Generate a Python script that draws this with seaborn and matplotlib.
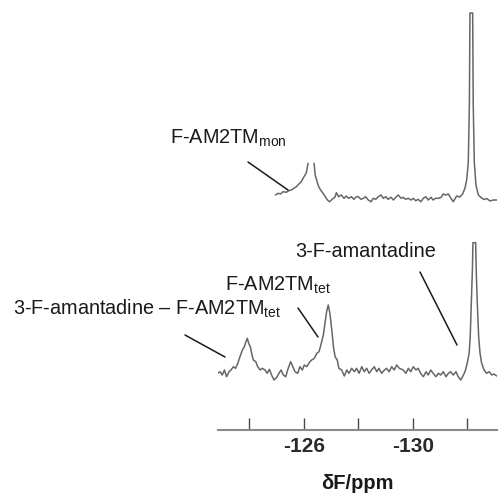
import numpy as np
import pandas as pd
import matplotlib
matplotlib.use('Agg')
import matplotlib.pyplot as plt
from matplotlib.lines import Line2D
import seaborn as sns

# ---------------- data ----------------
bottom_ppm = [-122.83, -122.92, -123.00, -123.08, -123.16, -123.25, -123.32, -123.41, -123.49, -123.57,
              -123.65, -123.74, -123.81, -123.87, -123.92, -123.97, -124.03, -124.08, -124.14, -124.23,
              -124.30, -124.39, -124.47, -124.57, -124.65, -124.73, -124.81, -124.90, -125.00, -125.08,
              -125.16, -125.24, -125.33, -125.42, -125.51, -125.59, -125.67, -125.77, -125.85, -125.94,
              -126.01, -126.10, -126.19, -126.28, -126.38, -126.47, -126.55, -126.62, -126.71, -126.77,
              -126.83, -126.89, -126.95, -127.02, -127.08, -127.14, -127.22, -127.28, -127.38, -127.48,
              -127.57, -127.65, -127.75, -127.85, -127.93, -128.02, -128.12, -128.21, -128.30, -128.39,
              -128.48, -128.58, -128.67, -128.75, -128.85, -128.95, -129.03, -129.12, -129.22, -129.31,
              -129.40, -129.50, -129.64, -129.74, -129.83, -129.92, -130.01, -130.11, -130.19, -130.28,
              -130.38, -130.48, -130.56, -130.65, -130.74, -130.84, -130.93, -131.02, -131.11, -131.21,
              -131.30, -131.38, -131.48, -131.58, -131.66, -131.75, -131.82, -131.91, -131.99, -132.06,
              -132.10, -132.14, -132.18, -132.20, -132.30, -132.32, -132.36, -132.41, -132.46, -132.52,
              -132.61, -132.70, -132.80, -132.89, -132.97, -133.07]
bottom_int = [-0.3, 1.3, -2, 3, -3.7, 1.3, 3, 6.3, 4.7, 9.7,
              16.3, 23, 26.3, 31.3, 34.7, 29.7, 26.3, 19.7, 13, 11.3,
              6.3, 3, 4.7, 3, -0.3, 3.7, -2, -7, -4.3, -0.3,
              3, -2, -3.7, 4.7, 11.3, 6.3, 1.3, -0.3, 6.3, 3,
              8, 6.3, 10.3, 13, 14.7, 19.7, 21.3, 28, 38, 49.7,
              61.3, 68, 59.7, 43, 26.3, 16.3, 13, 4.7, 3, -3,
              3, -0.3, 4.7, 1.3, 4.7, -0.3, 6.3, 1.3, 4.7, -0.3,
              3, 6.3, 1.3, 4.7, -0.3, 3, 4.7, 1.3, 6.3, 3,
              8, 4.7, 3, -0.3, 4.7, 1.3, 6.3, 3, 4.7, -0.3,
              -3.7, 1.3, -2, 3, -0.3, -3.7, -0.3, -2, 1.3, -3.7,
              -0.3, 1.3, -2, 1.3, -3.7, -7, -3.7, 1.3, 9.7, 19.7,
              36.3, 69.7, 103, 130.3, 130.3, 103, 69.7, 36.3, 19.7, 9.7,
              3, -0.3, 1.3, -2, -1, -3]

# upper spectrum (F-AM2TM monomer), drawn in two pieces around the clipped peak
top_ppm_a = [-124.95, -125.05, -125.14, -125.23, -125.35, -125.44, -125.53, -125.63, -125.72, -125.81,
             -125.90, -126.00, -126.08, -126.15]
top_int_a = [5, 6.7, 6, 8.3, 7.7, 9.3, 10, 11.7, 13.3, 16, 18.3, 23.3, 26.7, 36.7]
top_ppm_b = [-126.37, -126.41, -126.48, -126.54, -126.61, -126.70, -126.78, -126.86, -126.94, -127.03,
             -127.13, -127.19, -127.27, -127.37, -127.47, -127.55, -127.64, -127.74, -127.83, -127.92,
             -127.99, -128.09, -128.18, -128.26, -128.36, -128.46, -128.54, -128.63, -128.73, -128.83,
             -128.91, -129.00, -129.09, -129.19, -129.28, -129.37, -129.46, -129.56, -129.64, -129.73,
             -129.83, -129.93, -130.01, -130.10, -130.19, -130.29, -130.38, -130.47, -130.56, -130.66,
             -130.74, -130.83, -130.93, -131.03, -131.11, -131.20, -131.30, -131.39, -131.48, -131.60,
             -131.72, -131.82, -131.91, -131.97, -132.03, -132.07, -132.09, -132.19, -132.21, -132.25,
             -132.31, -132.40, -132.52, -132.61, -132.70, -132.83, -132.95, -133.13]
top_int_b = [36.7, 25, 18.3, 13.3, 10, 6.7, 3.3, 0, -1.7, 0.7,
             2.7, 7.3, 3.3, 5, 1.7, 4, 1.7, 3.3, 0.7, 3.3,
             3.3, 0.7, 1.7, 3.3, 0, -1.7, 1.7, 0.7, 3.3, 5,
             1.7, 3.3, 0.7, 2.7, 0, 2.7, 5, 1.7, 2.7, 0.7,
             1.7, 0, 1.7, -0.7, 0.7, -1.7, 1.7, 3.3, 0, 2.7,
             0, 1.7, 1.7, 2.7, 6, 5, 6, 1.7, -1.7, 4,
             3, 6, 12, 20, 38, 97, 187, 187, 97, 38,
             15, 5, 2, 0.5, 1.5, -1, 0, 0]

tick_values = [-124, -126, -128, -130, -132]
tick_labels = ['', '-126', '', '-130', '']
x_label = 'δF/ppm'

# ---------------- style ----------------
sns.set_theme(style='white')
plt.rcParams['font.family'] = ['Liberation Sans', 'DejaVu Sans']
plt.rcParams['mathtext.fontset'] = 'custom'
plt.rcParams['mathtext.rm'] = 'Liberation Sans'
plt.rcParams['mathtext.it'] = 'Liberation Sans:italic'
plt.rcParams['mathtext.bf'] = 'Liberation Sans:bold'

W, H = 502, 493
fig = plt.figure(figsize=(W / 100, H / 100), dpi=100)
fig.patch.set_facecolor('white')
ax = fig.add_axes([218 / W, 63 / H, 279 / W, 430 / H])
ax.set_facecolor('white')

TOP_OFFSET = 173
df = pd.concat([
    pd.DataFrame({'ppm': bottom_ppm, 'y': bottom_int, 'seg': 'bottom'}),
    pd.DataFrame({'ppm': top_ppm_a, 'y': np.array(top_int_a) + TOP_OFFSET, 'seg': 'top_a'}),
    pd.DataFrame({'ppm': top_ppm_b, 'y': np.array(top_int_b) + TOP_OFFSET, 'seg': 'top_b'}),
], ignore_index=True)

sns.lineplot(data=df, x='ppm', y='y', units='seg', estimator=None, sort=False,
             color='#666666', lw=1.1, ax=ax, legend=False)

ax.set_xlim(-122.844, -133.083)
ax.set_ylim(-57, 373)
for s in ['left', 'top', 'right']:
    ax.spines[s].set_visible(False)
ax.spines['bottom'].set_color('#8a8a8a')
ax.spines['bottom'].set_linewidth(1.5)

ax.set_xticks(tick_values)
ax.set_xticklabels(tick_labels, fontsize=15, fontweight='bold', color='#2a2a2a')
ax.tick_params(axis='x', direction='in', length=8.5, width=1.0, color='#4a4a4a',
               pad=5, bottom=True)
ax.set_yticks([])
ax.set_ylabel('')
ax.set_xlabel(x_label, fontsize=14.5, fontweight='bold', color='#1a1a1a')
ax.xaxis.set_label_coords(0.5, -0.103)


def ptext(x, y, s, size=14.3):
    fig.text(x / W, 1 - y / H, s, ha='left', va='baseline', fontsize=size, color='#1a1a1a')


def pline(x1, y1, x2, y2):
    fig.add_artist(Line2D([x1 / W, x2 / W], [1 - y1 / H, 1 - y2 / H],
                          transform=fig.transFigure, color='#1a1a1a', lw=1.1))


ptext(170, 144, r'F-AM2TM$_{\mathregular{mon}}$')
ptext(13, 315, r'3-F-amantadine – F-AM2TM$_{\mathregular{tet}}$')
ptext(225, 291, r'F-AM2TM$_{\mathregular{tet}}$')
ptext(295, 257, '3-F-amantadine')

pline(248, 162, 288, 190)
pline(185, 335, 225, 357)
pline(298, 308, 318, 337)
pline(420, 272, 457, 345)

fig.savefig('out.png', dpi=100, facecolor='white')
